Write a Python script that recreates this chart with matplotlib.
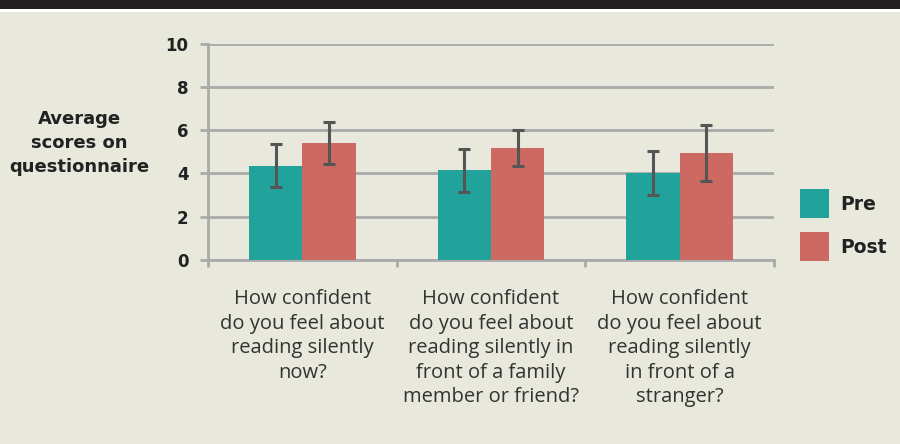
import numpy as np
import matplotlib
matplotlib.use("Agg")
import matplotlib.pyplot as plt
from matplotlib.patches import Rectangle

categories = [
    "How confident\ndo you feel about\nreading silently\nnow?",
    "How confident\ndo you feel about\nreading silently in\nfront of a family\nmember or friend?",
    "How confident\ndo you feel about\nreading silently\nin front of a\nstranger?",
]
pre = [4.35, 4.15, 4.02]
pre_err = [1.0, 1.0, 1.0]
post = [5.4, 5.17, 4.95]
post_err = [0.97, 0.83, 1.3]
series_names = ["Pre", "Post"]
yticks = [0, 2, 4, 6, 8, 10]

bg = "#e8e8dc"
teal = "#21a29a"
salmon = "#cb6962"
grid = "#aaaaaa"

fig = plt.figure(figsize=(9, 4.44), dpi=100, facecolor=bg)
ax = fig.add_axes([208 / 900, 1 - 260 / 444, (774 - 208) / 900, (260 - 43.5) / 444])
ax.set_facecolor(bg)

# top dark band
fig.patches.append(Rectangle((0, 1 - 9 / 444), 1, 9 / 444, transform=fig.transFigure,
                             facecolor="#231f20", edgecolor="none", zorder=5))
fig.patches.append(Rectangle((0, 1 - 12 / 444), 1, 3 / 444, transform=fig.transFigure,
                             facecolor="white", edgecolor="none", zorder=5))

x = np.arange(len(categories))
w = 0.283
ax.bar(x - w / 2, pre, w, color=teal, zorder=3, label=series_names[0])
ax.bar(x + w / 2, post, w, color=salmon, zorder=3, label=series_names[1])
ekw = dict(fmt="none", ecolor="#555555", elinewidth=2.2, capsize=4.2, capthick=2.2, zorder=4)
ax.errorbar(x - w / 2, pre, yerr=pre_err, **ekw)
ax.errorbar(x + w / 2, post, yerr=post_err, **ekw)

ax.set_xlim(-0.5, len(categories) - 0.5)
ax.set_ylim(0, 10)
ax.set_yticks(yticks)
ax.set_yticklabels([str(t) for t in yticks], fontsize=12, fontweight="bold", color="#222222")
ax.yaxis.grid(True, color=grid, linewidth=2, zorder=0)
ax.tick_params(axis="y", length=6, width=2, color=grid, pad=8)
ax.set_xticks(np.arange(len(categories) + 1) - 0.5, minor=True)
ax.set_xticks(x)
ax.set_xticklabels(categories, fontsize=14.5, color="#333333", linespacing=1.3,
                   family="Open Sans")
ax.tick_params(axis="x", which="major", length=0, pad=21)
ax.tick_params(axis="x", which="minor", length=5, width=2, color=grid)
for s in ["top", "right"]:
    ax.spines[s].set_visible(False)
ax.spines["left"].set_color(grid)
ax.spines["left"].set_linewidth(2)
ax.spines["bottom"].set_color(grid)
ax.spines["bottom"].set_linewidth(2)

fig.text(79 / 900, 1 - 143 / 444, "Average\nscores on\nquestionnaire", ha="center", va="center",
         fontsize=13, fontweight="bold", color="#222222", linespacing=1.4)

# legend
for i, (name, col) in enumerate(zip(series_names, [teal, salmon])):
    y0 = 189 + i * 43
    fig.patches.append(Rectangle((800 / 900, 1 - (y0 + 29) / 444), 29 / 900, 29 / 444,
                                 transform=fig.transFigure, facecolor=col, edgecolor="none"))
    fig.text(840 / 900, 1 - (y0 + 15) / 444, name, ha="left", va="center",
             fontsize=13.5, fontweight="bold", color="#222222")

fig.savefig("out.png", dpi=100, facecolor=bg)
